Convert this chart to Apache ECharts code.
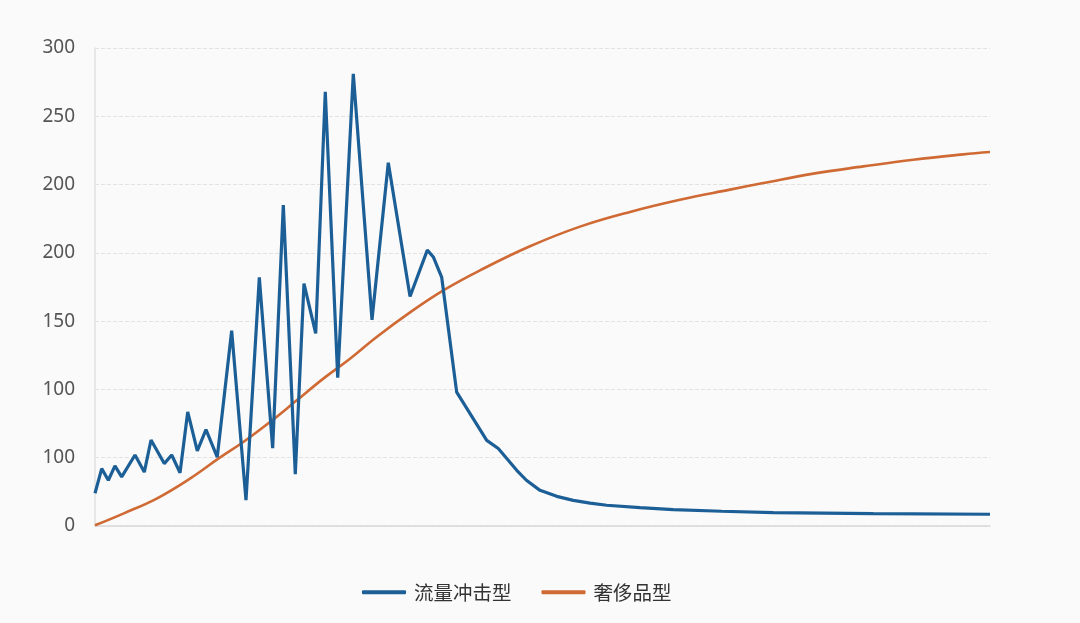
<!DOCTYPE html>
<html>
<head>
<meta charset="utf-8">
<script src="https://cdn.jsdelivr.net/npm/echarts@6/dist/echarts.min.js"></script>
<style>
html,body{margin:0;padding:0;background:#fafafa;}
#c{width:1080px;height:623px;}
</style>
</head>
<body>
<div id="c"></div>
<script>
// Y tick labels as printed on the reference (one per 50-unit gridline)
var yTickLabels = ["0", "100", "100", "150", "200", "200", "250", "300"];
var seriesNames = ["流量冲击型", "奢侈品型"];

// 流量冲击型: x (time, 0-100), value
var trafficX = [0, 0.75, 1.49, 2.23, 2.98, 4.47, 5.51, 6.26, 7.74, 8.57, 9.50, 10.36, 11.43, 12.40, 13.66,
  15.27, 16.87, 18.36, 19.85, 21.04, 22.38, 23.35, 24.66, 25.73, 27.12, 28.86, 30.95, 32.77, 35.20,
  37.13, 37.80, 38.74, 40.41, 43.77, 45.06, 47.12, 48.2, 49.72, 51.59, 53.44, 55.31, 57.17, 60.89, 64.61, 70.0, 75.79, 86.96, 100];
var trafficY = [24, 42, 33.5, 44, 36, 52, 39.5, 63, 45.7, 52, 39, 83.5, 55, 70.6, 50.5,
  143, 19, 182, 57, 235, 38, 177.5, 141, 318, 108.6, 331, 151, 266, 168,
  202, 197, 182, 98, 62.7, 56.7, 40.8, 33.5, 26.1, 21.7, 18.8, 16.8, 15.2, 13.4, 12, 10.8, 9.8, 9.1, 8.6];

// 奢侈品型: x (time, 0-100), value
var luxuryX = [0, 3.16, 6.89, 10.61, 13.78, 16.57, 19.55, 22.54, 25.51, 28.49, 31.47, 35.20, 38.92, 43.02,
  48.60, 54.19, 59.78, 65.36, 70.95, 74.67, 80.26, 85.84, 91.43, 97.02, 100];
var luxuryY = [0.5, 9.1, 20.1, 34.7, 49.3, 61.5, 76.1, 92.0, 107.9, 122.5, 138.4, 156.4, 172.5, 187.2,
  204.8, 219.2, 230.0, 238.9, 246.3, 251.1, 258.0, 263.3, 268.2, 272.1, 273.8];

function pairs(xs, ys) { return xs.map(function (x, i) { return [x, ys[i]]; }); }

var chart = echarts.init(document.getElementById('c'));
chart.setOption({
  backgroundColor: '#fafafa',
  animation: false,
  grid: { left: 95, right: 90, top: 48, bottom: 97 },
  legend: {
    bottom: 16,
    left: 357,
    itemWidth: 44,
    itemHeight: 4,
    itemGap: 30,
    icon: 'roundRect',
    textStyle: { fontSize: 19.5, color: '#333', fontFamily: 'Noto Sans CJK SC', padding: [0, 0, 0, 3] },
    data: seriesNames
  },
  xAxis: {
    type: 'value',
    min: 0,
    max: 100,
    axisLine: { show: true, lineStyle: { color: '#d9d9d9', width: 1.5 } },
    axisTick: { show: false },
    axisLabel: { show: false },
    splitLine: { show: false }
  },
  yAxis: {
    type: 'value',
    min: 0,
    max: 350,
    interval: 50,
    axisLine: { show: true, lineStyle: { color: '#e0e0e0', width: 1.5 } },
    axisTick: { show: false },
    axisLabel: {
      margin: 20,
      fontSize: 19,
      color: '#555',
      fontFamily: 'Noto Sans',
      formatter: function (v) { return yTickLabels[Math.round(v / 50)]; }
    },
    splitLine: { show: true, lineStyle: { color: '#e2e2e2', type: 'dashed', width: 1 } }
  },
  series: [
    {
      name: seriesNames[0],
      type: 'line',
      data: pairs(trafficX, trafficY),
      showSymbol: false,
      lineStyle: { color: '#1c5f97', width: 3.2 },
      itemStyle: { color: '#1c5f97' },
      z: 3
    },
    {
      name: seriesNames[1],
      type: 'line',
      data: pairs(luxuryX, luxuryY),
      smooth: 0.4,
      showSymbol: false,
      lineStyle: { color: '#cf6a35', width: 2.6 },
      itemStyle: { color: '#cf6a35' },
      z: 2
    }
  ]
});
</script>
</body>
</html>
